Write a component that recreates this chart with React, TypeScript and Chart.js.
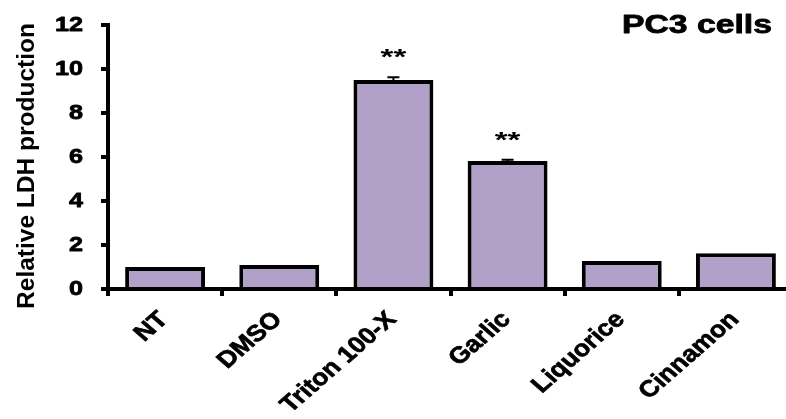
import React, { useEffect, useRef } from "react";
import { Chart, registerables } from "chart.js";

Chart.register(...registerables);

const categories = ["NT", "DMSO", "Triton 100-X", "Garlic", "Liquorice", "Cinnamon"];
const values = [1.0, 1.09, 9.5, 5.82, 1.27, 1.62];
const errors = [0, 0, 0.12, 0.05, 0, 0];
const significance = ["", "", "**", "**", "", ""];
const yTicks = [0, 2, 4, 6, 8, 10, 12];
const chartTitle = "PC3 cells";
const yAxisTitle = "Relative LDH production";

const FONT = "'Liberation Sans', Arial, sans-serif";
const BAR_FILL = "#B1A0C7";

function stretchedText(
  ctx: CanvasRenderingContext2D,
  text: string,
  x: number,
  y: number,
  opts: {
    sx?: number;
    angle?: number;
    align?: CanvasTextAlign;
    baseline?: CanvasTextBaseline;
    size: number;
    heavy?: number;
  }
) {
  ctx.save();
  ctx.translate(x, y);
  ctx.scale(opts.sx ?? 1, 1);
  if (opts.angle) ctx.rotate(opts.angle);
  ctx.font = `bold ${opts.size}px ${FONT}`;
  ctx.fillStyle = "#000";
  ctx.strokeStyle = "#000";
  ctx.lineJoin = "round";
  ctx.textAlign = opts.align ?? "left";
  ctx.textBaseline = opts.baseline ?? "alphabetic";
  ctx.fillText(text, 0, 0);
  if (opts.heavy) {
    ctx.lineWidth = opts.heavy;
    ctx.strokeText(text, 0, 0);
  }
  ctx.restore();
}

const decorPlugin = {
  id: "decor",
  afterDatasetsDraw(chart: any) {
    const ctx: CanvasRenderingContext2D = chart.ctx;
    const yScale = chart.scales.y;
    const meta = chart.getDatasetMeta(0);
    meta.data.forEach((bar: any, i: number) => {
      const err = errors[i];
      const yVal = yScale.getPixelForValue(values[i]);
      const yTop = yScale.getPixelForValue(values[i] + err);
      if (err > 0) {
        ctx.save();
        ctx.strokeStyle = "#000";
        ctx.lineWidth = 2;
        ctx.beginPath();
        ctx.moveTo(bar.x, yVal);
        ctx.lineTo(bar.x, yTop);
        ctx.moveTo(bar.x - 6, yTop);
        ctx.lineTo(bar.x + 6, yTop);
        ctx.stroke();
        ctx.restore();
      }
      if (significance[i]) {
        stretchedText(ctx, significance[i], bar.x, yTop - 13, {
          sx: 1.5,
          align: "center",
          baseline: "alphabetic",
          size: 22,
        });
      }
    });
  },
  afterDraw(chart: any) {
    const ctx: CanvasRenderingContext2D = chart.ctx;
    const yScale = chart.scales.y;
    const xScale = chart.scales.x;
    const area = chart.chartArea;
    // y tick labels
    yTicks.forEach((v) => {
      stretchedText(ctx, String(v), area.left - 25, yScale.getPixelForValue(v), {
        sx: 1.2,
        align: "right",
        baseline: "middle",
        size: 21,
        heavy: 0.8,
      });
    });
    // x tick labels
    categories.forEach((c, i) => {
      stretchedText(ctx, c, xScale.getPixelForValue(i) - 1, area.bottom + 27, {
        sx: 1.15,
        angle: -Math.PI / 4,
        align: "right",
        baseline: "middle",
        size: 23,
        heavy: 0.7,
      });
    });
    // y axis title
    stretchedText(ctx, yAxisTitle, 27, (area.top + area.bottom) / 2 + 9, {
      angle: -Math.PI / 2,
      align: "center",
      baseline: "middle",
      size: 24.5,
    });
    // chart title
    stretchedText(ctx, chartTitle, 772, 33, {
      sx: 1.35,
      align: "right",
      baseline: "alphabetic",
      size: 25,
      heavy: 0.8,
    });
  },
};

export default function App() {
  const ref = useRef<HTMLCanvasElement | null>(null);

  useEffect(() => {
    document.documentElement.style.overflow = "hidden";
    document.body.style.overflow = "hidden";
    if (!ref.current) return;
    const chart = new Chart(ref.current, {
      type: "bar",
      data: {
        labels: categories,
        datasets: [
          {
            data: values,
            backgroundColor: BAR_FILL,
            borderColor: "#000",
            borderWidth: 4,
            borderSkipped: "start",
            categoryPercentage: 1,
            barPercentage: 0.7,
          },
        ],
      },
      options: {
        animation: false,
        responsive: true,
        maintainAspectRatio: false,
        layout: { padding: { top: 25, left: 0, right: 0, bottom: 0 } },
        plugins: {
          legend: { display: false },
          tooltip: { enabled: false },
          title: { display: false },
        },
        scales: {
          x: {
            offset: true,
            grid: {
              display: true,
              offset: true,
              drawOnChartArea: false,
              drawTicks: true,
              tickLength: 7,
              color: "#000",
              lineWidth: 4,
            },
            border: { display: true, color: "#000", width: 4 },
            ticks: { display: false },
            afterFit: (scale: any) => {
              scale.height = 130;
            },
          },
          y: {
            min: 0,
            max: 12,
            ticks: { display: false, stepSize: 2 },
            grid: {
              display: true,
              drawOnChartArea: false,
              drawTicks: true,
              tickLength: 7,
              color: "#000",
              lineWidth: 4,
            },
            border: { display: true, color: "#000", width: 4 },
            afterFit: (scale: any) => {
              scale.width = 108;
            },
          },
        },
      },
      plugins: [decorPlugin],
    });
    return () => chart.destroy();
  }, []);

  return (
    <div style={{ position: "fixed", left: 0, top: 0, width: 793, height: 419, background: "#fff" }}>
      <canvas ref={ref} />
    </div>
  );
}
